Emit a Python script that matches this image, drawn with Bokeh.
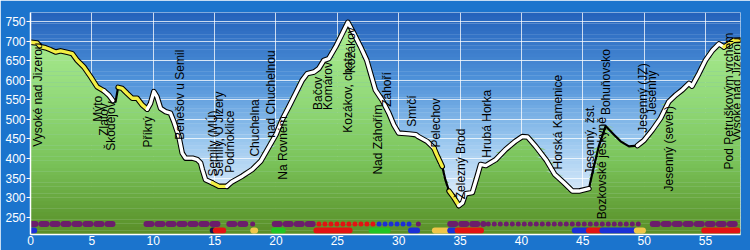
import numpy as np
from bokeh.plotting import figure
from bokeh.models import Range1d, FixedTicker, ColumnDataSource
from bokeh.core.properties import value
from bokeh.embed import file_html
from bokeh.resources import INLINE

# ---------------- data ----------------
km = [0.0, 0.55, 0.8, 1.22, 1.63, 2.04, 2.45, 3.0, 3.4, 3.8, 4.35, 4.9, 5.43, 5.98,
      6.38, 6.71, 6.93, 7.14, 7.47, 7.88, 8.29, 8.69, 9.1, 9.51, 9.78, 10.05, 10.3,
      10.6, 11.0, 11.4, 11.68, 12.09, 12.36, 12.63, 13.2, 13.6, 13.86, 14.0, 14.26,
      14.8, 15.35, 16.0, 16.4, 17.25, 18.07, 18.75, 19.3, 20.0, 20.5, 21.05, 21.6,
      22.14, 22.55, 23.1, 23.5, 23.9, 24.3, 24.86, 25.4, 25.86, 26.35, 26.9, 27.4,
      27.75, 28.1, 28.66, 29.2, 29.6, 30.0, 30.83, 31.4, 31.6, 32.3, 32.87, 33.1,
      33.55, 33.8, 34.1, 34.5, 34.9, 35.2, 35.45, 36.0, 36.4, 36.67, 37.1, 37.9,
      38.7, 39.5, 40.07, 40.5, 41.16, 42.0, 42.7, 43.46, 44.15, 44.7, 45.5, 45.78,
      46.3, 46.86, 47.54, 48.08, 48.76, 49.45, 49.98, 50.67, 51.34, 52.0, 52.57,
      53.1, 53.65, 53.9, 54.46, 55.0, 55.56, 56.1, 56.5, 56.9, 57.3, 57.85]
elev = [697, 695, 686, 683, 678, 672, 675, 671, 668, 651, 634, 609, 583, 573,
        562, 548, 545, 582, 579, 566, 554, 554, 537, 526, 541, 571, 558,
        528, 520, 516, 494, 456, 414, 401, 401, 397, 389, 372, 346,
        338, 329, 329, 340, 355, 372, 393, 423, 461, 499, 532, 566,
        600, 617, 621, 630, 651, 655, 685, 719, 748, 719, 685, 651,
        613, 575, 549, 516, 486, 465, 463, 461, 456, 444, 427, 410,
        380, 346, 317, 300, 280, 287, 310, 313, 355, 385, 382, 397,
        423, 444, 456, 455, 431, 397, 360, 338, 317, 317, 323, 363,
        431, 483, 461, 444, 431, 433, 446, 473, 503, 545, 562,
        575, 592, 585, 617, 651, 676, 693, 685, 693, 702, 703]

# surface type segments of the profile line
seg_start = [0.0, 5.98, 6.71, 7.14, 9.51, 14.8, 16.0, 32.87, 33.55, 34.1, 34.9, 45.5, 49.45, 56.5]
seg_end   = [5.98, 6.71, 7.14, 9.51, 14.8, 16.0, 32.87, 33.55, 34.1, 34.9, 45.5, 49.45, 56.5, 57.85]
seg_kind  = ["yellow", "white", "black", "yellow", "white", "yellow", "white", "yellow",
             "black", "yellow", "white", "black", "white", "yellow"]

# place labels
lab_text = ["Vysoké nad Jizerou", "Mýto", "Zlatov", "Škodějov", "Příkrý", "Benešov u Semil",
            "Semily (MÚ)", "Semily, U Jizery", "Podmoklice", "Chuchelna", "nad Chuchelnou",
            "Na Rovném", "Bačov", "Komárov", "Kozákov, chata", "Kozákov", "Nad Záhořím",
            "Záhoří", "Smrčí", "Pelechov", "Železný Brod", "Hrubá Horka", "Horská Kamenice",
            "Jesenný, žst.", "Bozkovské jeskyně", "Bohuňovsko", "Jesenný (JZ)", "Jesenný",
            "Jesenný (sever)", "Pod Petruškovým vrchem", "Vysoké nad Jizerou"]
lab_km = [0.6, 5.5, 5.98, 6.57, 9.56, 12.2, 14.85, 15.35, 16.25, 18.3, 19.6, 20.6, 23.4,
          24.2, 25.9, 26.15, 28.3, 29.07, 31.1, 33.06, 35.1, 37.16, 42.97, 45.6, 46.6, 46.9,
          49.9, 50.67, 52.0, 56.9, 57.6]
lab_elev = [430, 494, 458, 420, 428, 448, 354, 354, 364, 405, 453, 346, 524, 524, 466, 618,
            359, 532, 481, 428, 296, 402, 372, 359, 245, 511, 466, 511, 316, 372, 443]

# marked trails (upper row: dotted, lower row: solid)
up_start = [0.0, 9.45, 16.2, 18.1, 19.9, 23.5, 28.4, 31.6, 34.2, 37.3, 50.7]
up_end   = [6.7, 15.3, 17.5, 18.15, 23.1, 27.9, 31.3, 31.65, 36.9, 49.6, 57.4]
up_color = ["purple", "purple", "purple", "purple", "purple", "red", "blue", "purple",
            "purple", "purple", "purple"]
up_style = ["wide", "wide", "wide", "small", "wide", "small", "small", "small", "wide",
            "small", "wide"]

lo_start = [0.1, 14.85, 15.1, 18.15, 19.85, 23.3, 27.8, 31.0, 32.95, 34.2, 34.8, 44.35,
            45.5, 46.6, 49.4, 54.9]
lo_end   = [0.3, 14.9, 15.7, 18.3, 20.55, 26.0, 29.1, 31.5, 33.95, 34.5, 36.7, 45.4,
            46.4, 49.2, 49.9, 57.6]
lo_color = ["blue", "navy", "red", "yellow", "green", "red", "green", "blue", "yellow",
            "blue", "red", "blue", "red", "blue", "yellow", "red"]

x_ticks = [0, 5, 10, 15, 20, 25, 30, 35, 40, 45, 50, 55]
y_ticks = [250, 300, 350, 400, 450, 500, 550, 600, 650, 700, 750]

# ---------------- styles ----------------
XMIN, XMAX = 0.0, 57.85
YMIN, YMAX = 206.0, 773.0
UP_Y, LO_Y = 233, 216
trail_col = {"purple": "#6b1d6b", "red": "#e31212", "blue": "#1b2fd6", "green": "#22c422",
             "yellow": "#f0c64a", "navy": "#16164a"}
line_col = {"yellow": "#f3ef45", "white": "#ffffff"}


def hex2rgb(h):
    h = h.lstrip("#")
    return np.array([int(h[i:i + 2], 16) for i in (0, 2, 4)], dtype=float)


def grad(stops, vals):
    ys = [s[0] for s in stops]
    cs = np.array([hex2rgb(s[1]) for s in stops])
    out = []
    for v in vals:
        rgb = [np.interp(v, ys, cs[:, k]) for k in range(3)]
        out.append("#%02x%02x%02x" % tuple(int(round(c)) for c in rgb))
    return out


p = figure(width=750, height=250, output_backend="svg", toolbar_location=None,
           x_range=Range1d(XMIN, XMAX), y_range=Range1d(YMIN, YMAX),
           min_border_left=30, min_border_right=10, min_border_top=12, min_border_bottom=16)
p.border_fill_color = "#1b74cd"
p.background_fill_color = "#e6f2fb"
p.outline_line_color = None

# sky gradient (below grid)
N = 60
b = np.linspace(YMIN, YMAX, N + 1)
mids = (b[:-1] + b[1:]) / 2
sky = grad([(206, "#eef7fe"), (300, "#dcecfa"), (450, "#98c6ee"), (600, "#4f92d9"),
            (773, "#2462bb")], mids)
p.quad(left=XMIN, right=XMAX, bottom=b[:-1], top=b[1:] + 0.5, fill_color=sky,
       line_color=None, level="image")

# terrain gradient
kma = np.array(km, dtype=float)
ela = np.array(elev, dtype=float)
green = grad([(206, "#5a8c27"), (250, "#5f9a32"), (400, "#7cc55c"), (550, "#92d979"),
              (760, "#aef094")], mids)
for i in range(N):
    lo, hi = b[i], b[i + 1] + 0.6
    p.varea(x=kma, y1=np.full_like(kma, lo), y2=np.clip(ela, lo, hi),
            fill_color=green[i])

# profile line
for s, e, k in zip(seg_start, seg_end, seg_kind):
    m = (kma >= s - 1e-9) & (kma <= e + 1e-9)
    if k == "black":
        p.line(kma[m], ela[m], line_color="black", line_width=2.2, line_join="round",
               line_cap="round")
    else:
        p.line(kma[m], ela[m], line_color="black", line_width=5.5, line_join="round",
               line_cap="round")
for s, e, k in zip(seg_start, seg_end, seg_kind):
    if k == "black":
        continue
    m = (kma >= s - 1e-9) & (kma <= e + 1e-9)
    p.line(kma[m], ela[m], line_color=line_col[k], line_width=3.4, line_join="round",
           line_cap="round")

# trails
for s, e, c, st in zip(up_start, up_end, up_color, up_style):
    if st == "wide":
        p.segment(x0=[s], y0=[UP_Y], x1=[e], y1=[UP_Y], line_color=trail_col[c],
                  line_width=6, line_cap="round", line_dash="5 6")
    else:
        p.segment(x0=[s], y0=[UP_Y], x1=[e], y1=[UP_Y], line_color=trail_col[c],
                  line_width=5, line_cap="round", line_dash="0 6")
p.segment(x0=lo_start, y0=[LO_Y] * len(lo_start), x1=lo_end, y1=[LO_Y] * len(lo_end),
          line_color=[trail_col[c] for c in lo_color], line_width=6, line_cap="round")

# labels
src = ColumnDataSource(dict(x=lab_km, y=lab_elev, t=lab_text))
p.text(x="x", y="y", text="t", source=src, angle=np.pi / 2, text_align="left",
       text_baseline="middle", text_color="black", text_font=value("Liberation Sans"),
       text_font_size="12px")

# axes and grid
p.xaxis.ticker = FixedTicker(ticks=x_ticks)
p.yaxis.ticker = FixedTicker(ticks=y_ticks)
for ax in (p.xaxis[0], p.yaxis[0]):
    ax.axis_line_color = "white"
    ax.axis_line_width = 1.5
    ax.major_tick_line_color = "white"
    ax.minor_tick_line_color = None
    ax.major_tick_in = 0
    ax.major_label_text_color = "white"
    ax.major_label_text_font = "Liberation Sans"
    ax.major_label_text_font_size = "12px"
    ax.major_label_standoff = 1
p.xaxis.major_tick_out = 0
p.yaxis.major_tick_out = 4
p.grid.grid_line_color = "white"
p.grid.grid_line_alpha = 0.75
p.grid.grid_line_width = 1

open("out.html", "w").write(file_html(p, INLINE))
